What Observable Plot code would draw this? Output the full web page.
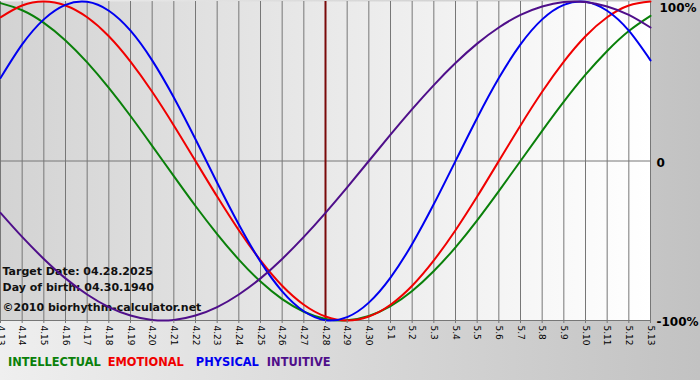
<!DOCTYPE html>
<html>
<head>
<meta charset="utf-8">
<script src="https://cdn.jsdelivr.net/npm/d3@7"></script>
<script src="https://cdn.jsdelivr.net/npm/@observablehq/plot@0.6"></script>
<style>
  html, body { margin: 0; padding: 0; }
  body { width: 700px; height: 380px; overflow: hidden;
         background: linear-gradient(to right, #efefef 0%, #c2c2c2 100%);
         font-family: "DejaVu Sans", Verdana, sans-serif; }
  #legend { height: 35px; line-height: 35px; padding-left: 8px; font-size: 11.4px; font-weight: bold; white-space: nowrap; }
</style>
</head>
<body>
<div id="chart"></div>
<div id="legend"></div>
<script>
// Day labels (x axis)
const days = ["4.13","4.14","4.15","4.16","4.17","4.18","4.19","4.20","4.21","4.22","4.23","4.24","4.25","4.26","4.27","4.28","4.29","4.30",
              "5.1","5.2","5.3","5.4","5.5","5.6","5.7","5.8","5.9","5.10","5.11","5.12","5.13"];
const targetDay = "4.28";

// Series values (fraction of 100%), one per day
const intellectual = [0.990,0.945,0.866,0.756,0.618,0.458,0.282,0.095,-0.095,-0.282,-0.458,-0.618,-0.756,-0.866,-0.945,-0.990,-0.999,-0.972,-0.910,-0.815,-0.690,-0.541,-0.372,-0.189,0,0.189,0.372,0.541,0.690,0.815,0.910];
const emotional    = [0.901,0.975,1,0.975,0.901,0.782,0.623,0.434,0.223,0,-0.223,-0.434,-0.623,-0.782,-0.901,-0.975,-1,-0.975,-0.901,-0.782,-0.623,-0.434,-0.223,0,0.223,0.434,0.623,0.782,0.901,0.975,1];
const physical     = [0.520,0.731,0.888,0.979,0.998,0.942,0.817,0.631,0.398,0.136,-0.136,-0.398,-0.631,-0.817,-0.942,-0.998,-0.979,-0.888,-0.731,-0.520,-0.270,0,0.270,0.520,0.731,0.888,0.979,0.998,0.942,0.817,0.631];
const intuitive    = [-0.325,-0.476,-0.614,-0.736,-0.837,-0.916,-0.969,-0.997,-0.997,-0.969,-0.916,-0.837,-0.736,-0.614,-0.476,-0.325,-0.165,0,0.165,0.325,0.476,0.614,0.736,0.837,0.916,0.969,0.997,0.997,0.969,0.916,0.837];

const seriesNames = ["INTELLECTUAL","EMOTIONAL","PHYSICAL","INTUITIVE"];
const seriesColors = ["#0a800a","#f00000","#0000f0","#4f0f8a"];
const infoLines = ["Target Date: 04.28.2025","Day of birth: 04.30.1940","\u00a92010 biorhythm-calculator.net"];

const seriesData = [intellectual, emotional, physical, intuitive];
const rows = seriesData.map(arr => arr.map((v, i) => ({i, value: v})));
const dayIdx = days.map((d, i) => i);
const targetIdx = days.indexOf(targetDay);

const fmt = d => d === 0 ? "0" : (d * 100) + "%";
const infoOffsets = [-49, -33, -13];
const legendGaps = [7, 12, 8, 0];

const chart = Plot.plot({
  width: 700,
  height: 345,
  marginLeft: 0,
  marginRight: 50,
  marginTop: 1,
  marginBottom: 25,
  style: {background: "transparent", fontFamily: "DejaVu Sans, Verdana, sans-serif", color: "#000", overflow: "visible"},
  x: {domain: [0, days.length - 1]},
  y: {domain: [-1, 1]},
  marks: [
    Plot.frame({fill: "url(#plotbg)", stroke: null}),
    Plot.ruleX(dayIdx, {stroke: "#777", strokeWidth: 1, strokeOpacity: 1}),
    Plot.ruleY([0, -1], {stroke: "#777", strokeWidth: 1, strokeOpacity: 1}),
    Plot.ruleX([targetIdx], {stroke: "#7a0a0a", strokeWidth: 2, strokeOpacity: 1}),
    ...infoLines.map((t, k) => Plot.text([t], {frameAnchor: "bottom-left", dx: 2, dy: infoOffsets[k], lineAnchor: "middle", textAnchor: "start", fontSize: 11, fontWeight: "bold", fill: "#111"})),
    ...rows.map((r, k) => Plot.line(r, {x: "i", y: "value", stroke: seriesColors[k], strokeWidth: 2, curve: "natural"})),
    Plot.axisX({ticks: dayIdx, tickFormat: i => days[i], tickSize: 3, tickPadding: 2, tickRotate: 90, fontSize: 9, stroke: "#777", label: null}),
    Plot.axisY({anchor: "right", ticks: [0, -1], tickFormat: fmt, tickSize: 0, tickPadding: 6, dy: 2, fontSize: 12, fontWeight: "bold", label: null}),
    Plot.axisY({anchor: "right", ticks: [1], tickFormat: fmt, tickSize: 0, tickPadding: 9, dy: 7, fontSize: 12, fontWeight: "bold", label: null})
  ]
});

document.getElementById("chart").appendChild(chart);
d3.select(chart).insert("defs", ":first-child").html(
  '<linearGradient id="plotbg" x1="0" x2="1" y1="0" y2="0">' +
  '<stop offset="0" stop-color="#d3d3d3"/><stop offset="1" stop-color="#ffffff"/></linearGradient>');

const legend = d3.select("#legend");
seriesNames.forEach((n, k) => legend.append("span")
  .style("color", seriesColors[k])
  .style("margin-right", legendGaps[k] + "px")
  .text(n));
</script>
</body>
</html>
